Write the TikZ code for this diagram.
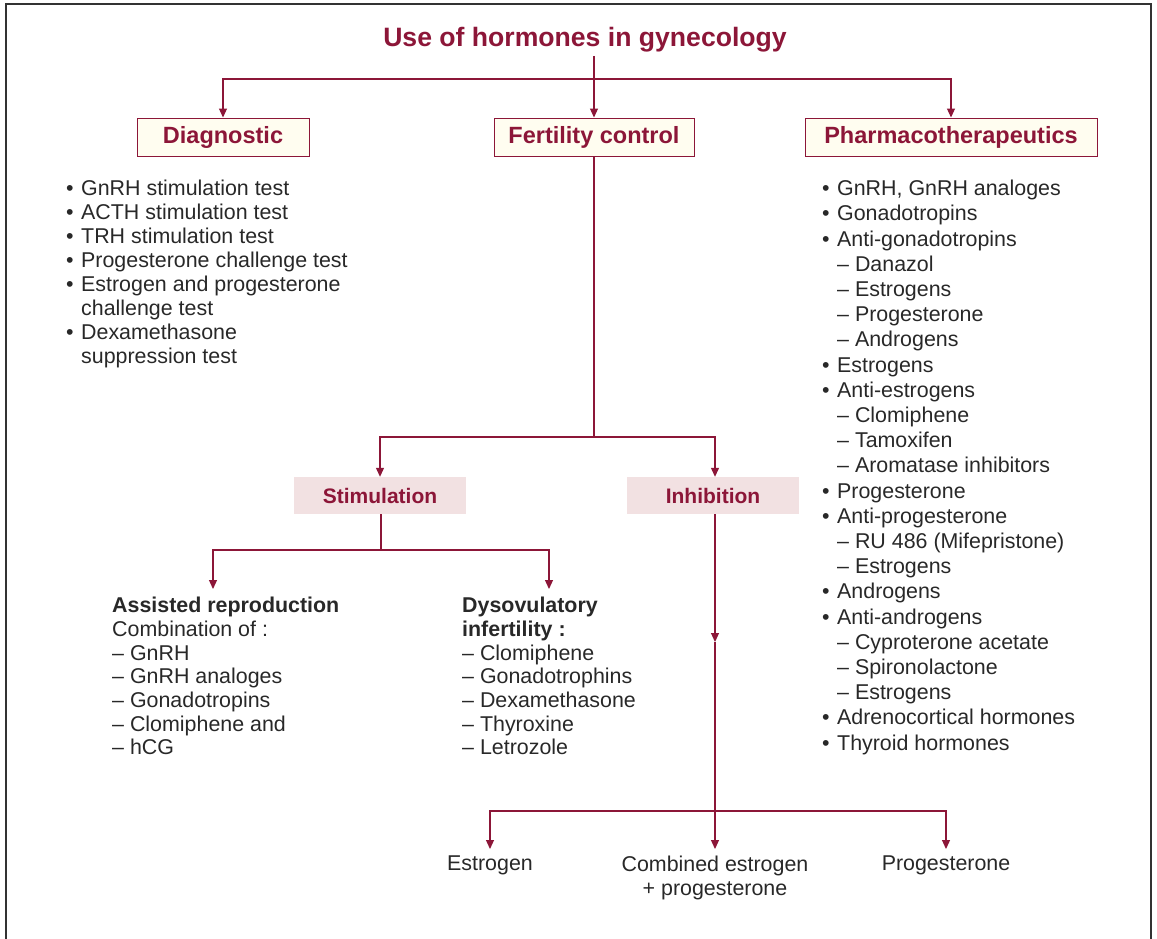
\documentclass[tikz,border=0pt]{standalone}
\usepackage{fontspec}
\setmainfont{Liberation Sans}
\usetikzlibrary{arrows.meta}
\definecolor{maroon}{RGB}{140,22,56}
\definecolor{txtgray}{RGB}{40,40,40}
\definecolor{framegray}{RGB}{50,50,50}
\definecolor{cream}{RGB}{255,253,240}
\definecolor{pinkbg}{RGB}{242,225,226}
\tikzset{
  conn/.style={draw=maroon, line width=1.2pt},
  arr/.style={conn, -{Triangle[length=9pt,width=8pt]}},
  headbox/.style={draw=maroon, line width=1pt, fill=cream, text=maroon,
    font=\fontsize{23.5}{28}\selectfont\bfseries, minimum height=38pt, inner sep=0pt},
  subbox/.style={fill=pinkbg, text=maroon, font=\fontsize{21}{25}\selectfont\bfseries,
    minimum width=172pt, minimum height=37pt, inner sep=0pt},
  listtext/.style={text=txtgray, align=left, anchor=north west, inner sep=0pt},
  endtext/.style={text=txtgray, align=center, anchor=north, inner xsep=0pt, inner ysep=7pt,
    font=\fontsize{21.4}{24}\selectfont},
}
\newcommand{\bul}{\makebox[15pt][l]{•}}
\newcommand{\ind}{\hspace*{15pt}}
\begin{document}
\begin{tikzpicture}[x=1pt,y=-1pt]
\useasboundingbox (0,0) rectangle (1157,938);
\draw[line width=2.5pt, draw=framegray] (6,945) -- (6,4) -- (1151,4) -- (1151,945);

% title and first level
\node[text=maroon, font=\fontsize{26.6}{30}\selectfont\bfseries] (title) at (585,40) {Use of hormones in gynecology};
\node[headbox, minimum width=172pt] (diag) at (223,137) {Diagnostic};
\node[headbox, minimum width=200pt] (fert) at (594,137) {Fertility control};
\node[headbox, minimum width=292pt] (pharm) at (951,137) {Pharmacotherapeutics};

\coordinate (tsplit) at (594,79);
\draw[arr] (title.south -| fert.north) -- (fert.north);
\draw[arr] (tsplit) -| (diag.north);
\draw[arr] (tsplit) -| (pharm.north);

\node[listtext, font=\fontsize{21.4}{24}\selectfont] (diaglist) at (66,180) {%
\bul GnRH stimulation test\\
\bul ACTH stimulation test\\
\bul TRH stimulation test\\
\bul Progesterone challenge test\\
\bul Estrogen and progesterone\\
\ind challenge test\\
\bul Dexamethasone\\
\ind suppression test};

\node[listtext, font=\fontsize{21.4}{25.2}\selectfont] (pharmlist) at (822,180) {%
\bul GnRH, GnRH analoges\\
\bul Gonadotropins\\
\bul Anti-gonadotropins\\
\ind – Danazol\\
\ind – Estrogens\\
\ind – Progesterone\\
\ind – Androgens\\
\bul Estrogens\\
\bul Anti-estrogens\\
\ind – Clomiphene\\
\ind – Tamoxifen\\
\ind – Aromatase inhibitors\\
\bul Progesterone\\
\bul Anti-progesterone\\
\ind – RU 486 (Mifepristone)\\
\ind – Estrogens\\
\bul Androgens\\
\bul Anti-androgens\\
\ind – Cyproterone acetate\\
\ind – Spironolactone\\
\ind – Estrogens\\
\bul Adrenocortical hormones\\
\bul Thyroid hormones};

% fertility control
\node[subbox] (stim) at (380,495.5) {Stimulation};
\node[subbox] (inh) at (713,495.5) {Inhibition};
\coordinate (fsplit) at (594,437);
\draw[conn] (fert.south) -- (fsplit);
\draw[arr] (fsplit) -| (stim.north);
\draw[arr] (fsplit) -| ([xshift=2pt]inh.north);

% stimulation
\coordinate (ssplit) at (381,550);
\coordinate (assistin) at (213,589);
\coordinate (dysoin) at (549,589);
\draw[conn] (stim.south -| ssplit) -- (ssplit);
\draw[arr] (ssplit) -| (assistin);
\draw[arr] (ssplit) -| (dysoin);

\node[listtext, font=\fontsize{21.4}{23.7}\selectfont] (assist) at (112,597) {%
\textbf{Assisted reproduction}\\
Combination of :\\
– GnRH\\
– GnRH analoges\\
– Gonadotropins\\
– Clomiphene and\\
– hCG};
\node[listtext, font=\fontsize{21.4}{23.7}\selectfont] (dyso) at (462,597) {%
\textbf{Dysovulatory}\\
\textbf{infertility :}\\
– Clomiphene\\
– Gonadotrophins\\
– Dexamethasone\\
– Thyroxine\\
– Letrozole};

% inhibition
\coordinate (imid) at (715,642);
\coordinate (isplit) at (715,811);
\node[endtext] (estr) at (490,849) {Estrogen};
\node[endtext] (comb) at (715,849) {Combined estrogen\\+ progesterone};
\node[endtext] (prog) at (946,849) {Progesterone};
\draw[arr] (inh.south -| imid) -- (imid);
\draw[conn] (imid) -- (isplit);
\draw[arr] (isplit) -| (estr.north);
\draw[arr] (isplit) -- (comb.north);
\draw[arr] (isplit) -| (prog.north);
\end{tikzpicture}
\end{document}
